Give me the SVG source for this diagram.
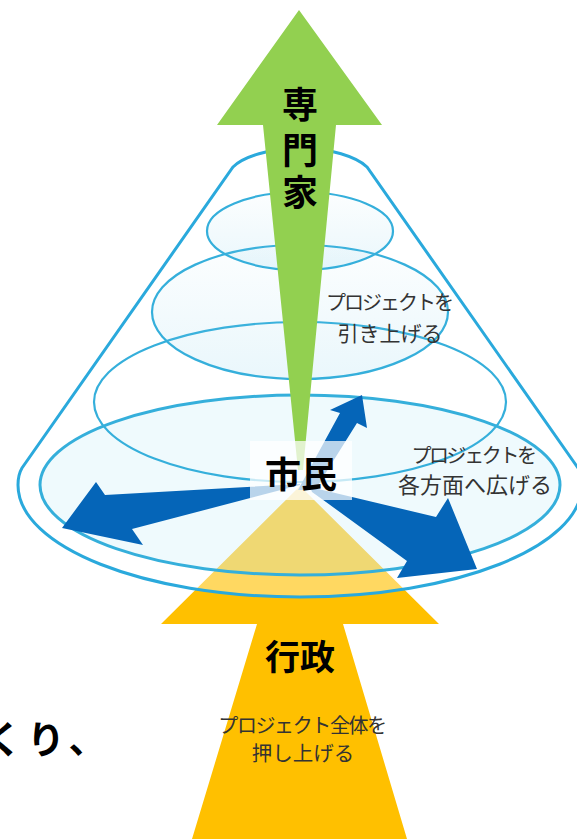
<svg xmlns="http://www.w3.org/2000/svg" width="577" height="839" viewBox="0 0 577 839">
<defs>
<linearGradient id="disc" x1="0" y1="0" x2="0" y2="1"><stop offset="0" stop-color="#70c8e8" stop-opacity="0.02"/><stop offset="1" stop-color="#70c8e8" stop-opacity="0.15"/></linearGradient>
</defs>
<style>
.jp{font-family:"Noto Sans CJK JP","Noto Sans CJK SC",sans-serif}
.big{font-size:36px;font-weight:700;fill:#000;text-anchor:middle}
.note{font-size:20px;fill:#333;text-anchor:middle}
.disc{fill:url(#disc);stroke:#35afdb;stroke-width:2.2}
.blue{fill:#0565b8}
</style>
<rect width="577" height="839" fill="#fff"/>
<g id="gyosei-arrow"><path d="M300 486L439 624H343L407 839H192L257 624H161Z" fill="#ffc000"/></g>
<g id="cone">
<path d="M233 167C243 157 270 148 300 148C330 148 357 157 367 167L578 468C581 473 582 479 582 485C582 547 456 597 300 597C144 597 18 547 18 485C18 479 19 473 22 468Z" fill="#fff" fill-opacity="0.38" stroke="#2aa9dc" stroke-width="3"/>
<ellipse class="disc" cx="300" cy="485" rx="260" ry="90" style="stroke-width:3;fill:#80d8ec;fill-opacity:.13"/>
<ellipse class="disc" cx="300" cy="402" rx="206" ry="80" style="fill:none"/>
<ellipse class="disc" cx="300" cy="312" rx="148" ry="67"/>
<ellipse class="disc" cx="300" cy="231" rx="93" ry="39"/>
</g>
<g id="connectors">
<path class="blue" d="M300 484L105 495L96 482L62 528L143 545L132 529L300 485Z"/>
<path class="blue" d="M298 490L340 413L330 410L362 395L367 428L357 423L315 490Z"/>
<path class="blue" d="M310 487L436 517L448 498L477 569L397 578L407 561L326 502L312 492Z"/>
</g>
<g id="senmonka-arrow"><path d="M299 10L382 125H336L303 470H298L263 125H217Z" fill="#92d050"/></g>
<rect x="250" y="441" width="102" height="59" fill="#fff" fill-opacity="0.72"/>
<g id="senmonka-label" class="jp big"><text x="300" y="118">専</text><text x="300" y="164">門</text><text x="300" y="206">家</text></g>
<g id="shimin-label"><text class="jp big" x="301" y="488">市民</text></g>
<g id="gyosei-label"><text class="jp big" x="300" y="670" style="font-size:35px">行政</text></g>
<g id="note-hikiage" class="jp note"><text x="389" y="310" letter-spacing="-2">プロジェクトを</text><text x="390" y="341" style="font-size:21px">引き上げる</text></g>
<g id="note-hirogeru" class="jp note"><text x="473" y="463" letter-spacing="-2.4">プロジェクトを</text><text x="475" y="493" style="font-size:22px">各方面へ広げる</text></g>
<g id="note-oshiage" class="jp note"><text x="302" y="733" letter-spacing="-1.4">プロジェクト全体を</text><text x="303" y="761" style="font-size:20.5px">押し上げる</text></g>
<g id="cropped-text"><text class="jp" x="-16" y="753" font-size="38" font-weight="700" letter-spacing="5" fill="#000">くり、</text></g>
</svg>
